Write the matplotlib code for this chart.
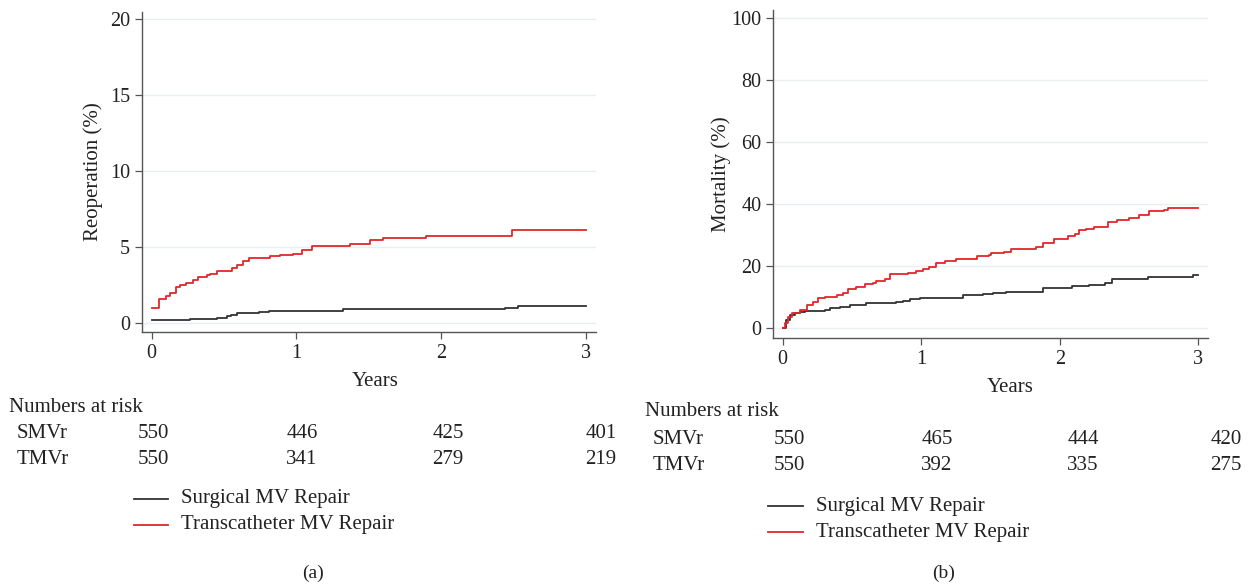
import matplotlib
matplotlib.use("Agg")
import matplotlib.pyplot as plt
from matplotlib.lines import Line2D

plt.rcParams['font.family'] = ['Liberation Serif', 'DejaVu Serif']

# ---- Panel (a): Reoperation ----
a_tmvr_t = [0.0, 0.05, 0.10, 0.13, 0.17, 0.196, 0.24, 0.288, 0.318, 0.38, 0.405, 0.455, 0.553, 0.588, 0.633, 0.675, 0.818, 0.89, 0.98, 1.04, 1.11, 1.37, 1.51, 1.60, 1.90, 2.49, 3.0]
a_tmvr_y = [0.99, 1.6, 1.75, 1.97, 2.37, 2.5, 2.63, 2.85, 3.03, 3.18, 3.25, 3.4, 3.62, 3.84, 4.06, 4.28, 4.39, 4.5, 4.56, 4.82, 5.04, 5.2, 5.48, 5.59, 5.75, 6.14, 6.14]
a_smvr_t = [0.0, 0.265, 0.45, 0.52, 0.55, 0.59, 0.74, 0.81, 1.32, 2.44, 2.53, 3.0]
a_smvr_y = [0.18, 0.26, 0.33, 0.44, 0.55, 0.64, 0.72, 0.81, 0.9, 0.99, 1.12, 1.12]

# ---- Panel (b): Mortality ----
b_tmvr_t = [0.0, 0.017, 0.04, 0.065, 0.10, 0.125, 0.173, 0.22, 0.257, 0.305, 0.39, 0.437, 0.473, 0.533, 0.593, 0.653, 0.677, 0.737, 0.774, 0.905, 0.966, 1.014, 1.06, 1.11, 1.17, 1.254, 1.40, 1.49, 1.506, 1.60, 1.65, 1.76, 1.83, 1.88, 1.93, 1.96, 2.02, 2.06, 2.11, 2.14, 2.19, 2.25, 2.35, 2.41, 2.50, 2.575, 2.646, 2.75, 2.78, 3.0]
b_tmvr_y = [0.0, 1.6, 3.76, 4.8, 5.05, 5.9, 7.5, 8.6, 9.7, 10.2, 10.75, 11.5, 12.6, 13.4, 14.2, 14.5, 15.3, 15.8, 17.5, 18.0, 18.6, 19.0, 19.9, 21.2, 21.8, 22.3, 23.4, 23.7, 24.4, 24.6, 25.5, 25.7, 26.1, 27.4, 27.7, 28.7, 28.8, 29.8, 30.6, 31.7, 32.0, 32.6, 34.4, 34.9, 35.5, 36.6, 37.8, 38.2, 38.7, 38.7]
b_smvr_t = [0.0, 0.024, 0.053, 0.089, 0.125, 0.16, 0.305, 0.34, 0.413, 0.485, 0.605, 0.677, 0.82, 0.87, 0.918, 0.99, 1.30, 1.446, 1.52, 1.61, 1.66, 1.88, 2.09, 2.21, 2.33, 2.38, 2.635, 2.96, 3.0]
b_smvr_y = [0.0, 2.7, 4.3, 4.8, 5.2, 5.6, 5.9, 6.45, 7.0, 7.7, 8.1, 8.3, 8.6, 8.8, 9.4, 9.9, 10.75, 11.1, 11.3, 11.6, 11.8, 12.9, 13.7, 14.0, 14.7, 15.8, 16.7, 17.1, 17.1]

a_risk_smvr = ["550", "446", "425", "401"]
a_risk_tmvr = ["550", "341", "279", "219"]
b_risk_smvr = ["550", "465", "444", "420"]
b_risk_tmvr = ["550", "392", "335", "275"]

x_ticks = [0, 1, 2, 3]
a_yticks = [0, 5, 10, 15, 20]
b_yticks = [0, 20, 40, 60, 80, 100]
legend_labels = ["Surgical MV Repair", "Transcatheter MV Repair"]

RED = "#e0262a"
BLK = "#333333"
GRID = "#e9eef1"
SPINE = "#555555"
TXT = "#222222"
FS = 15
W, H = 1259, 586

fig = plt.figure(figsize=(W / 100, H / 100), dpi=100)

def style(ax, yticks, ylim, ylabel, ylab_x, xlab_xy):
    ax.set_xlim(-0.067, 3.07)
    ax.set_ylim(*ylim)
    ax.set_xticks(x_ticks)
    ax.set_yticks(yticks)
    for s in ["top", "right"]:
        ax.spines[s].set_visible(False)
    for s in ["left", "bottom"]:
        ax.spines[s].set_color(SPINE)
        ax.spines[s].set_linewidth(1.0)
    ax.tick_params(colors=SPINE, labelcolor=TXT, labelsize=FS - 0.5, length=5, width=0.9)
    ax.yaxis.grid(True, color=GRID, linewidth=1.0)
    ax.set_axisbelow(True)
    ax.set_xlabel("Years", fontsize=FS, color=TXT)
    ax.set_ylabel(ylabel, fontsize=FS, color=TXT)
    ax.yaxis.set_label_coords(ylab_x, 0.5)
    ax.xaxis.set_label_coords(*xlab_xy)

axa = fig.add_axes([142 / W, 1 - 332 / H, (595.7 - 142) / W, (332 - 12) / H])
axa.step(a_smvr_t, a_smvr_y, where="post", color=BLK, lw=1.3)
axa.step(a_tmvr_t, a_tmvr_y, where="post", color=RED, lw=1.3)
style(axa, a_yticks, (-0.59, 20.46), "Reoperation (%)", (93 - 142) / 453.7,
      ((375 - 142) / 453.7, (332 - 381) / 320))
axa.xaxis.label.set_va("center")
axa.yaxis.label.set_va("center")

axb = fig.add_axes([773.3 / W, 1 - 338.3 / H, (1208 - 773.3) / W, (338.3 - 10) / H])
axb.step(b_smvr_t, b_smvr_y, where="post", color=BLK, lw=1.3)
axb.step(b_tmvr_t, b_tmvr_y, where="post", color=RED, lw=1.3)
style(axb, b_yticks, (-3.2, 102.7), "Mortality (%)", (721 - 773.3) / 434.7,
      ((1010 - 773.3) / 434.7, (338.3 - 387) / 328.3))
axb.xaxis.label.set_va("center")
axb.yaxis.label.set_va("center")

def fx(px):
    return px / W

def fy(py):
    return 1 - py / H

def risk_table(x0, y_head, y1, y2, xs, smvr, tmvr):
    fig.text(fx(x0), fy(y_head), "Numbers at risk", fontsize=FS, va="center", ha="left", color=TXT)
    fig.text(fx(x0 + 8), fy(y1), "SMVr", fontsize=FS, va="center", ha="left", color=TXT)
    fig.text(fx(x0 + 8), fy(y2), "TMVr", fontsize=FS, va="center", ha="left", color=TXT)
    for x, s, t in zip(xs, smvr, tmvr):
        fig.text(fx(x), fy(y1), s, fontsize=FS, va="center", ha="center", color=TXT)
        fig.text(fx(x), fy(y2), t, fontsize=FS, va="center", ha="center", color=TXT)

risk_table(9, 408, 433, 459, [153, 302, 448, 601], a_risk_smvr, a_risk_tmvr)
risk_table(645, 412, 439, 465, [789, 937, 1083, 1226], b_risk_smvr, b_risk_tmvr)

def legend(x_line0, x_line1, x_text, y1, y2):
    for y, c, lab in [(y1, BLK, legend_labels[0]), (y2, RED, legend_labels[1])]:
        fig.add_artist(Line2D([fx(x_line0), fx(x_line1)], [fy(y), fy(y)], color=c, lw=1.3,
                              transform=fig.transFigure))
        fig.text(fx(x_text), fy(y), lab, fontsize=FS, va="center", ha="left", color=TXT)

legend(134, 168, 181, 499, 525)
legend(768, 803, 816, 506, 532)

fig.text(fx(313), fy(573), "(a)", fontsize=FS - 1, ha="center", va="center", color=TXT)
fig.text(fx(944), fy(573), "(b)", fontsize=FS - 1, ha="center", va="center", color=TXT)

fig.savefig("out.png", dpi=100)
